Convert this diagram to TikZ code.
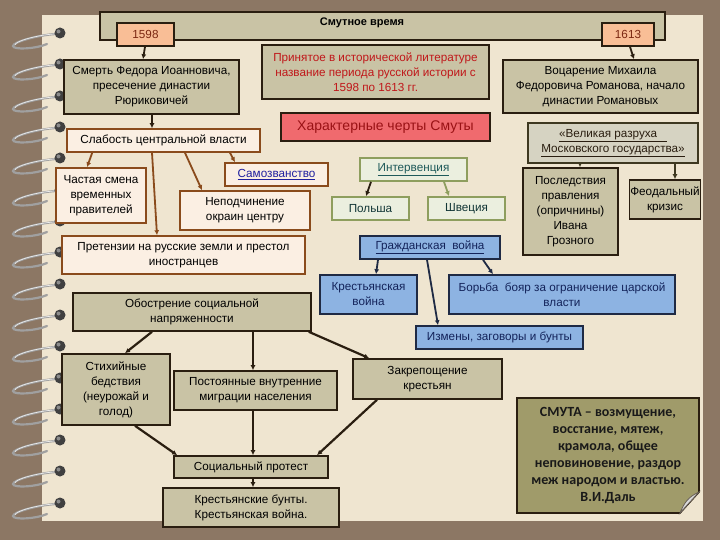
\documentclass[tikz,border=0pt]{standalone}
\usepackage{fontspec}
\setmainfont{Liberation Sans}
\newfontfamily\calib{Carlito}
\usetikzlibrary{arrows.meta}
\definecolor{bgc}{HTML}{8C7764}
\definecolor{paper}{HTML}{EFE5D0}
\definecolor{khaki}{HTML}{C9C3A5}
\definecolor{dk}{HTML}{2A1E10}
\definecolor{cream}{HTML}{FBEFE3}
\definecolor{brn}{HTML}{8A4B1C}
\definecolor{lgreen}{HTML}{EBEFDF}
\definecolor{olivec}{HTML}{8E9E5E}
\definecolor{lblue}{HTML}{8DB3E2}
\definecolor{navy}{HTML}{1F2A44}
\definecolor{peach}{HTML}{F9BE96}
\definecolor{yeartxt}{HTML}{7B2812}
\definecolor{redtxt}{HTML}{C0171A}
\definecolor{salmon}{HTML}{F06A6E}
\definecolor{greyc}{HTML}{D6D3C2}
\definecolor{smutafill}{HTML}{A09B6A}
\definecolor{linkblue}{HTML}{1F1F9F}
\definecolor{teal}{HTML}{1E5A5A}
\definecolor{dblue}{HTML}{13235A}
\definecolor{ringc}{HTML}{A0A0A0}
\begin{document}
\begin{tikzpicture}[x=1pt,y=-1pt,
  box/.style={draw, line width=1.6pt, align=center, inner sep=1pt, text=black,
    font=\fontsize{11.7}{15}\selectfont},
  kbox/.style={box, fill=khaki, draw=dk},
  cbox/.style={box, fill=cream, draw=brn},
  gbox/.style={box, fill=lgreen, draw=olivec},
  bbox/.style={box, fill=lblue, draw=navy},
  ybox/.style={box, fill=peach, draw=dk, text=yeartxt},
  arr/.style={-{Latex[length=5pt,width=5pt]}, line width=1.8pt},
  ringwire/.style={draw=ringc, line width=2.2pt, line cap=round}
]
\useasboundingbox (0,0) rectangle (720,540);
\fill[bgc] (0,0) rectangle (720,540);
\fill[paper] (42,15) rectangle (703,521);

% notebook rings
\foreach \yy in {33,64,96,127,158,190,221,252,284,315,346,378,409,440,471,503}{
  \draw[ringwire] (56,\yy+1) .. controls (38,\yy+2) and (13,\yy+9) .. (13,\yy+13)
     .. controls (13,\yy+17) and (36,\yy+16) .. (47,\yy+11);
  \draw[white!85!gray, line width=0.7pt] (54,\yy+1) .. controls (38,\yy+2) and (15,\yy+8) .. (15,\yy+12);
  \fill[black!75] (60,\yy) circle (5.5);
  \fill[black!45] (58.5,\yy-1.5) circle (2);
}

% title bar
\node[kbox, minimum width=565, minimum height=28] (title) at (382.5,26) {};
\node[font=\fontsize{11}{12}\selectfont\bfseries] (titletext) at (362,23) {Смутное время};

\node[ybox, minimum width=57, minimum height=23] (y1598) at (145.5,34.5) {1598};
\node[ybox, minimum width=52, minimum height=23] (y1613) at (628,34.5) {1613};

\node[kbox, minimum width=175, minimum height=54] (smert) at (151.5,87)
  {Смерть Федора Иоанновича,\\ пресечение династии\\ Рюриковичей};
\node[kbox, minimum width=227, minimum height=54, text=redtxt] (prin) at (375.5,72)
  {Принятое в исторической литературе\\ название периода русской истории с\\ 1598 по 1613 гг.};
\node[kbox, minimum width=195, minimum height=53] (vocar) at (600.5,86.5)
  {Воцарение Михаила\\ Федоровича Романова, начало\\ династии Романовых};

\node[cbox, minimum width=193, minimum height=23] (slab) at (163.5,140.5) {Слабость центральной власти};
\node[box, fill=salmon, draw=dk, minimum width=209, minimum height=28, text=redtxt!80!black,
  font=\fontsize{14}{16}\selectfont] (harakt) at (385.5,127) {Характерные черты Смуты};
\node[box, fill=greyc, draw=dk!80!olivec, minimum width=170, minimum height=40, text=dk] (razr) at (613,143)
  {\underline{«Великая разруха\ \ \ }\\ \underline{Московского государства»}};

\node[cbox, minimum width=90, minimum height=55] (chast) at (101,195.5) {Частая смена\\ временных\\ правителей};
\node[cbox, minimum width=103, minimum height=23, text=linkblue] (samoz) at (276.5,174.5) {\underline{Самозванство}};
\node[cbox, minimum width=130, minimum height=39] (nepod) at (245,210.5) {Неподчинение\\ окраин центру};
\node[gbox, minimum width=107, minimum height=23, text=teal] (interv) at (413.5,169.5) {\underline{Интервенция}};
\node[gbox, minimum width=77, minimum height=23, text=teal!60!black] (polsha) at (370.5,208.5) {Польша};
\node[gbox, minimum width=77, minimum height=23, text=teal!60!black] (shvec) at (466.5,208.5) {Швеция};
\node[kbox, minimum width=95, minimum height=87] (posled) at (570.5,211.5)
  {Последствия\\ правления\\ (опричнины)\\ Ивана\\ Грозного};
\node[kbox, minimum width=70, minimum height=39] (feod) at (665,199.5) {Феодальный\\ кризис};

\node[cbox, minimum width=243, minimum height=38] (pret) at (183.5,255)
  {Претензии на русские земли и престол\\ иностранцев};
\node[bbox, minimum width=140, minimum height=23, text=dblue] (grazh) at (430,247.5) {\underline{Гражданская\ \ война}};
\node[bbox, minimum width=97, minimum height=39, text=dblue] (kvoina) at (368.5,294.5) {Крестьянская\\ война};
\node[bbox, minimum width=226, minimum height=39, text=dblue] (borba) at (562,294.5)
  {Борьба\ \ бояр за ограничение царской\\ власти};
\node[kbox, minimum width=238, minimum height=38] (obostr) at (192,312) {Обострение социальной\\ напряженности};
\node[bbox, minimum width=167, minimum height=23, text=dblue] (izmeny) at (499.5,337.5) {Измены, заговоры и бунты};

\node[kbox, minimum width=108, minimum height=71] (stih) at (116,389.5) {Стихийные\\ бедствия\\ (неурожай и\\ голод)};
\node[kbox, minimum width=163, minimum height=39] (postoy) at (255.5,390.5) {Постоянные внутренние\\ миграции населения};
\node[kbox, minimum width=149, minimum height=40] (zakrep) at (427.5,379) {Закрепощение\\ крестьян};
\node[kbox, minimum width=154, minimum height=22] (protest) at (251,467) {Социальный протест};
\node[kbox, minimum width=176, minimum height=39] (bunty) at (251,507.5) {Крестьянские бунты.\\ Крестьянская война.};

% Smuta note with folded corner
\draw[fill=smutafill, draw=dk, line width=1.6pt] (517,398) -- (699,398) -- (699,492) -- (680,513) -- (517,513) -- cycle;
\fill[white!70!gray, draw=dk!70, line width=0.8pt] (699,492) -- (680,513) .. controls (684,503) and (688,497) .. cycle;
\node[align=center, font=\calib\fontsize{14}{17}\selectfont\bfseries, text=black!90] (smuta) at (608,455.5)
  {СМУТА – возмущение,\\ восстание, мятеж,\\ крамола, общее\\ неповиновение, раздор\\ меж народом и властью.\\ В.И.Даль};

% connectors
\draw[arr, draw=dk] ([xshift=-0.5]y1598.south) -- ([xshift=-8.5]smert.north);
\draw[arr, draw=dk] ([xshift=2]y1613.south) -- ([xshift=33.5]vocar.north);
\draw[arr, draw=dk] ([xshift=0.5]smert.south) -- ([xshift=-11.5]slab.north);

\draw[arr, draw=brn] ([xshift=26]slab.south west) -- ([xshift=-14]chast.north);
\draw[arr, draw=brn] ([xshift=-11.5]slab.south) -- ([xshift=-26.5]pret.north);
\draw[arr, draw=brn] ([xshift=21.5]slab.south) -- ([xshift=-43]nepod.north);
\draw[arr, draw=brn] ([xshift=66.5]slab.south) -- ([xshift=-41.5]samoz.north);

\draw[arr, draw=dk] ([xshift=-42.5]interv.south) -- ([xshift=-4.5]polsha.north);
\draw[arr, draw=olivec] ([xshift=30.5]interv.south) -- ([xshift=-17.5]shvec.north);

\draw[arr, draw=navy] ([xshift=-52]grazh.south) -- ([xshift=7.5]kvoina.north);
\draw[arr, draw=navy] ([xshift=-3]grazh.south) -- ([xshift=-61.5]izmeny.north);
\draw[arr, draw=navy] ([xshift=53]grazh.south) -- ([xshift=-69]borba.north);

\draw[arr, draw=dk!80!olivec] ([xshift=-33]razr.south) -- ([xshift=9.5]posled.north);
\draw[arr, draw=dk!80!olivec] ([xshift=62]razr.south) -- ([xshift=10]feod.north);

\draw[arr, draw=dk, line width=2.2pt] ([xshift=-40]obostr.south) -- ([xshift=9]stih.north);
\draw[arr, draw=dk, line width=2.2pt] ([xshift=61]obostr.south) -- ([xshift=-2.5]postoy.north);
\draw[arr, draw=dk, line width=2.2pt] ([xshift=-3]obostr.south east) -- ([xshift=17]zakrep.north west);

\draw[arr, draw=dk, line width=2.2pt] ([xshift=19]stih.south) -- ([xshift=4]protest.north west);
\draw[arr, draw=dk, line width=2.2pt] ([xshift=-2.5]postoy.south) -- ([xshift=2]protest.north);
\draw[arr, draw=dk, line width=2.2pt] ([xshift=-50.5]zakrep.south) -- ([xshift=66]protest.north);
\draw[arr, draw=dk, line width=2pt] ([xshift=2]protest.south) -- ([xshift=2]bunty.north);
\end{tikzpicture}
\end{document}
